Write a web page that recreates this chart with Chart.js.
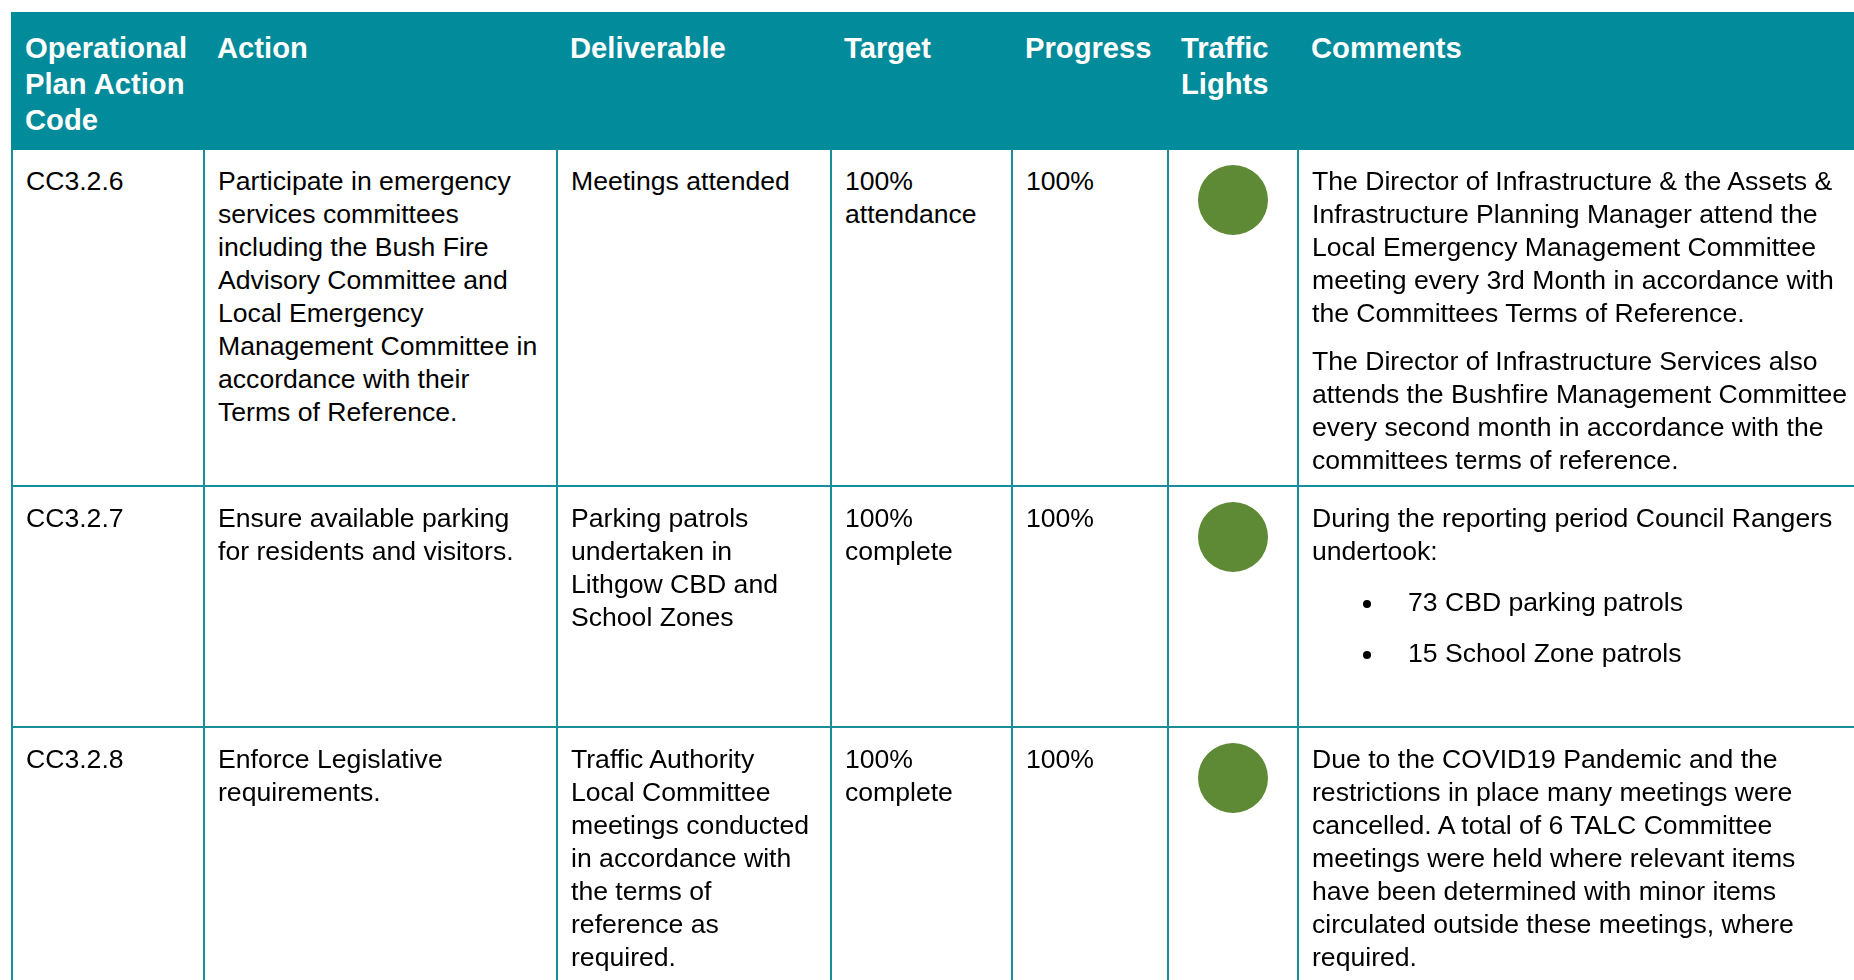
<!DOCTYPE html>
<html>
<head>
<meta charset="utf-8">
<script src="https://cdn.jsdelivr.net/npm/chart.js"></script>
<style>
  html, body { margin: 0; padding: 0; background: #fff; overflow: hidden; }
  body { width: 1854px; height: 980px; position: relative; font-family: Arial, "Liberation Sans", sans-serif; }
  #report {
    position: absolute; left: 11px; top: 12px;
    border-collapse: collapse; table-layout: fixed; width: 1910px;
  }
  #report th {
    background: #028b9b; color: #fff; font-weight: bold; font-size: 29.2px;
    line-height: 36px; text-align: left; vertical-align: top;
    padding: 16px 4px 0 12px; border: 2px solid #028b9b; height: 118px;
  }
  #report td {
    border: 2px solid #1b8c9a; vertical-align: top; color: #000;
    font-size: 26.6px; line-height: 33px; padding: 15px 4px 0 13px;
    white-space: pre-line;
  }
  #report td p { margin: 0; }
  #report td p + p { margin-top: 15px; }
  #report td ul { margin: 18px 0 0 0; padding: 0; list-style: none; }
  #report td li { position: relative; padding-left: 96px; margin-bottom: 18px; }
  #report td li::before {
    content: ""; position: absolute; left: 51px; top: 14px;
    width: 8px; height: 8px; border-radius: 50%; background: #000;
  }
  #report td.light { padding: 15px 0 0 0; text-align: center; }
  #report td.light canvas { display: block; margin: 0 auto; }
</style>
</head>
<body>
<table id="report">
  <colgroup>
    <col style="width:192px"><col style="width:353px"><col style="width:274px">
    <col style="width:181px"><col style="width:156px"><col style="width:130px">
    <col style="width:624px">
  </colgroup>
  <thead><tr id="headRow"></tr></thead>
  <tbody id="bodyRows"></tbody>
</table>
<script>
// column headings
const headings = ["Operational\nPlan Action\nCode", "Action", "Deliverable", "Target", "Progress", "Traffic\nLights", "Comments"];

// one entry per row
const codes = ["CC3.2.6", "CC3.2.7", "CC3.2.8"];
const actions = [
  "Participate in emergency\nservices committees\nincluding the Bush Fire\nAdvisory Committee and\nLocal Emergency\nManagement Committee in\naccordance with their\nTerms of Reference.",
  "Ensure available parking\nfor residents and visitors.",
  "Enforce Legislative\nrequirements."
];
const deliverables = [
  "Meetings attended",
  "Parking patrols\nundertaken in\nLithgow CBD and\nSchool Zones",
  "Traffic Authority\nLocal Committee\nmeetings conducted\nin accordance with\nthe terms of\nreference as\nrequired."
];
const targets = ["100%\nattendance", "100%\ncomplete", "100%\ncomplete"];
const progress = [100, 100, 100];
const lightStatus = ["green", "green", "green"];
const comments = [
  ["The Director of Infrastructure & the Assets &\nInfrastructure Planning Manager attend the\nLocal Emergency Management Committee\nmeeting every 3rd Month in accordance with\nthe Committees Terms of Reference.",
   "The Director of Infrastructure Services also\nattends the Bushfire Management Committee\nevery second month in accordance with the\ncommittees terms of reference."],
  ["During the reporting period Council Rangers\nundertook:"],
  ["Due to the COVID19 Pandemic and the\nrestrictions in place many meetings were\ncancelled. A total of 6 TALC Committee\nmeetings were held where relevant items\nhave been determined with minor items\ncirculated outside these meetings, where\nrequired."]
];
const commentBullets = [[], ["73 CBD parking patrols", "15 School Zone patrols"], []];

const lightColors = { green: "#5e8a35", amber: "#f0a830", red: "#c0392b" };
const rowHeights = [320, 224, 320];

const headRow = document.getElementById("headRow");
headings.forEach(h => {
  const th = document.createElement("th");
  th.textContent = h;
  th.style.whiteSpace = "pre-line";
  headRow.appendChild(th);
});

const tbody = document.getElementById("bodyRows");
codes.forEach((code, i) => {
  const tr = document.createElement("tr");
  const cells = [code, actions[i], deliverables[i], targets[i], progress[i] + "%"];
  cells.forEach(txt => {
    const td = document.createElement("td");
    td.textContent = txt;
    td.style.height = rowHeights[i] + "px";
    tr.appendChild(td);
  });

  // traffic light cell: a pie filled to the progress value
  const lightTd = document.createElement("td");
  lightTd.className = "light";
  const cv = document.createElement("canvas");
  cv.width = 70; cv.height = 70;
  cv.style.width = "70px"; cv.style.height = "70px";
  lightTd.appendChild(cv);
  tr.appendChild(lightTd);

  const commentTd = document.createElement("td");
  commentTd.style.whiteSpace = "normal";
  comments[i].forEach(p => {
    const el = document.createElement("p");
    el.style.whiteSpace = "pre-line";
    el.textContent = p;
    commentTd.appendChild(el);
  });
  if (commentBullets[i].length) {
    const ul = document.createElement("ul");
    commentBullets[i].forEach(b => {
      const li = document.createElement("li");
      li.textContent = b;
      ul.appendChild(li);
    });
    commentTd.appendChild(ul);
  }
  tr.appendChild(commentTd);
  tbody.appendChild(tr);

  new Chart(cv, {
    type: "pie",
    data: {
      labels: ["Progress", "Remaining"],
      datasets: [{
        data: [progress[i], 100 - progress[i]],
        backgroundColor: [lightColors[lightStatus[i]], "rgba(0,0,0,0)"],
        borderWidth: 0
      }]
    },
    options: {
      responsive: false,
      animation: false,
      layout: { padding: 0 },
      plugins: { legend: { display: false }, tooltip: { enabled: false } }
    }
  });
});
</script>
</body>
</html>
